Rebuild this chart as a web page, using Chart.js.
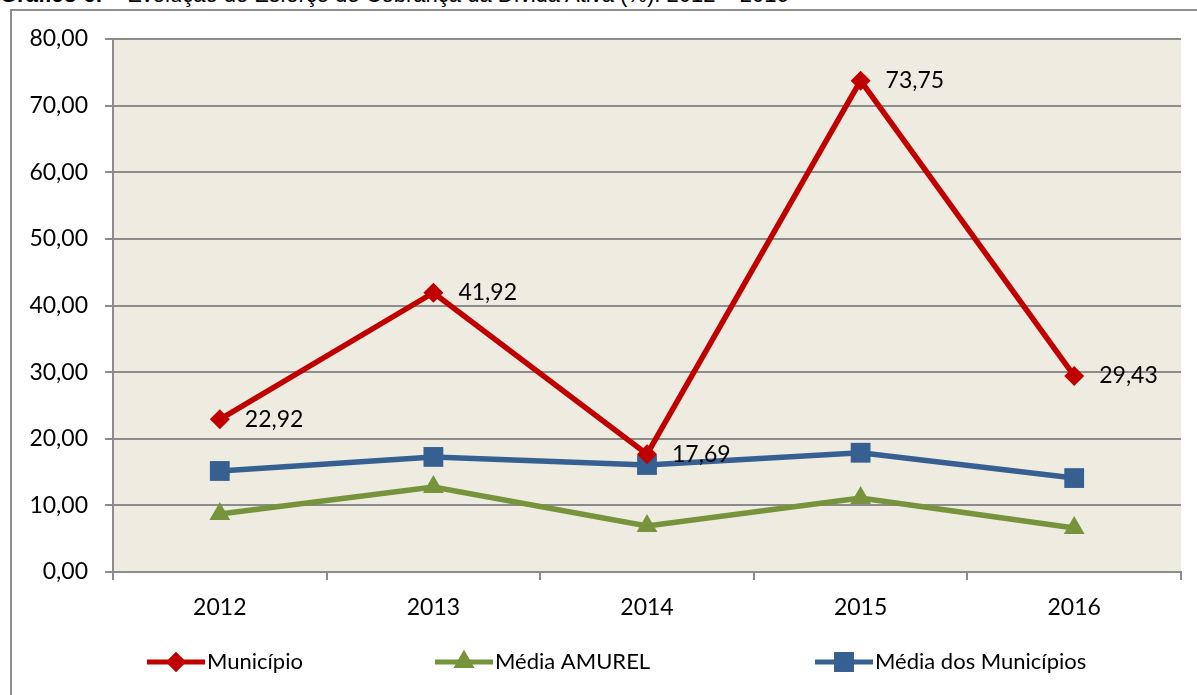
<!DOCTYPE html>
<html>
<head>
<meta charset="utf-8">
<script src="https://cdn.jsdelivr.net/npm/chart.js@4.4.0/dist/chart.umd.min.js"></script>
<style>
  html, body { margin: 0; padding: 0; background: #fff; overflow: hidden; }
  #wrap { position: relative; width: 1197px; height: 695px; }
  #title {
    position: absolute; left: 0; top: -18px; white-space: nowrap;
    font-family: "Liberation Sans", Arial, sans-serif; font-size: 22px; color: #000;
  }
  #frame {
    position: absolute; left: 10px; top: 9px; width: 1220px; height: 720px;
    border: 2px solid #8e8e8e; box-sizing: border-box;
  }
  canvas { position: absolute; left: 0; top: 0; }
</style>
</head>
<body>
<div id="wrap">
  <div id="title"><b>Gráfico 6:</b> – Evolução do Esforço de Cobrança da Dívida Ativa (%): 2012 – 2016</div>
  <div id="frame"></div>
  <canvas id="chart" width="1197" height="695"></canvas>
</div>
<script>
const years = ['2012', '2013', '2014', '2015', '2016'];
const municipio = [22.92, 41.92, 17.69, 73.75, 29.43];
const mediaAmurel = [8.7, 12.76, 6.9, 11.1, 6.6];
const mediaMunicipios = [15.16, 17.27, 16.06, 17.9, 14.1];
const seriesNames = ['Município', 'Média AMUREL', 'Média dos Municípios'];

const FONT = 'Lato, "Noto Sans", sans-serif';
const fmt = (v) => v.toFixed(2).replace('.', ',');

// plot area fill
const plotBg = {
  id: 'plotBg',
  beforeDraw(chart) {
    const { ctx, chartArea: a } = chart;
    ctx.save();
    ctx.fillStyle = '#EEEBE0';
    ctx.fillRect(a.left, a.top, a.right - a.left, a.bottom - a.top);
    ctx.restore();
  }
};

// value labels for the first series only
const valueLabels = {
  id: 'valueLabels',
  afterDatasetsDraw(chart) {
    const { ctx } = chart;
    const meta = chart.getDatasetMeta(0);
    ctx.save();
    ctx.font = '23px ' + FONT;
    ctx.fillStyle = '#000';
    ctx.textAlign = 'left';
    ctx.textBaseline = 'middle';
    meta.data.forEach((pt, i) => {
      ctx.fillText(fmt(municipio[i]), pt.x + 25, pt.y);
    });
    ctx.restore();
  }
};

// legend with line + marker samples, spaced like the original
const lineLegend = {
  id: 'lineLegend',
  afterDraw(chart) {
    const { ctx } = chart;
    const starts = [147, 435, 815];
    const y = 662;
    ctx.save();
    chart.data.datasets.forEach((ds, i) => {
      const x0 = starts[i];
      ctx.strokeStyle = ds.borderColor;
      ctx.lineWidth = 5;
      ctx.beginPath();
      ctx.moveTo(x0, y);
      ctx.lineTo(x0 + 58, y);
      ctx.stroke();
      ctx.fillStyle = ds.borderColor;
      Chart.helpers.drawPoint(ctx, { pointStyle: ds.pointStyle, radius: ds.pointRadius, borderWidth: 0 }, x0 + 29, y);
      ctx.fill();
      ctx.fillStyle = '#000';
      ctx.font = '22px ' + FONT;
      ctx.textAlign = 'left';
      ctx.textBaseline = 'middle';
      ctx.fillText(ds.label, x0 + 60, y);
    });
    ctx.restore();
  }
};

const mkSet = (label, data, color, style, r) => ({
  label, data,
  borderColor: color, backgroundColor: color,
  borderWidth: 5.5,
  pointStyle: style, pointRadius: r, pointHoverRadius: r,
  pointBorderWidth: 0,
  tension: 0
});

new Chart(document.getElementById('chart'), {
  type: 'line',
  data: {
    labels: years,
    datasets: [
      mkSet(seriesNames[0], municipio, '#C00000', 'rectRot', 10),
      mkSet(seriesNames[1], mediaAmurel, '#77933C', 'triangle', 12),
      mkSet(seriesNames[2], mediaMunicipios, '#376092', 'rect', 14)
    ]
  },
  options: {
    responsive: false,
    animation: false,
    layout: { padding: { left: 0, top: 39, right: 16, bottom: 0 } },
    plugins: { legend: { display: false }, tooltip: { enabled: false } },
    scales: {
      x: {
        offset: true,
        grid: { display: true, drawOnChartArea: false, offset: true, tickLength: 8, color: '#8c8c8c', lineWidth: 2 },
        border: { color: '#8c8c8c', width: 2 },
        ticks: { color: '#000', font: { family: FONT, size: 23 }, padding: 14 },
        afterFit: (s) => { s.height = 123; }
      },
      y: {
        min: 0, max: 80,
        grid: { color: '#8c8c8c', lineWidth: 2, tickLength: 8 },
        border: { color: '#8c8c8c', width: 2 },
        ticks: { stepSize: 10, color: '#000', font: { family: FONT, size: 23 }, padding: 17, callback: (v) => fmt(v) },
        afterFit: (s) => { s.width = 113; }
      }
    }
  },
  plugins: [plotBg, valueLabels, lineLegend]
});
</script>
</body>
</html>
